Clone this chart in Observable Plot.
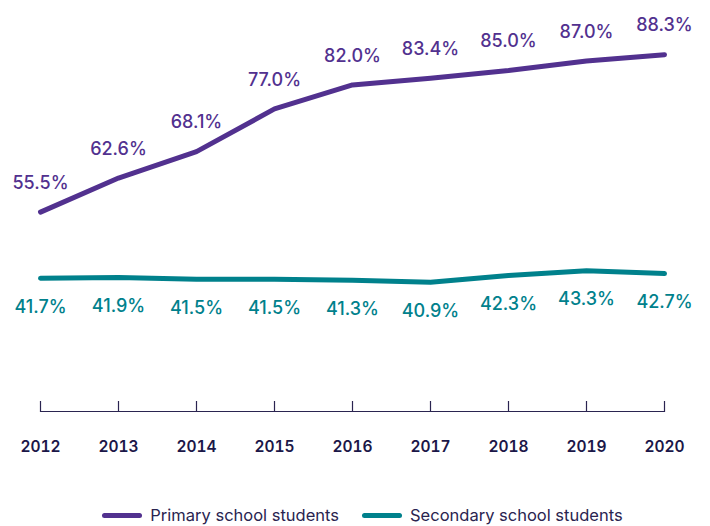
<!DOCTYPE html>
<html>
<head>
<meta charset="utf-8">
<script src="https://cdn.jsdelivr.net/npm/d3@7"></script>
<script src="https://cdn.jsdelivr.net/npm/@observablehq/plot@0.6"></script>
<style>
  body { margin: 0; background: #fff; font-family: Inter, "Noto Sans", sans-serif; }
  #chart { width: 710px; }
  .legend { display: flex; justify-content: center; gap: 23px; margin-top: 35px; font-size: 16.5px; color: #2a2450; padding-left: 15px; }
  .legend .item { display: flex; align-items: center; gap: 8px; }
  .legend .sw { width: 40px; height: 5px; border-radius: 3px; display: inline-block; }
</style>
</head>
<body>
<div id="chart"></div>
<script>
const years = [2012, 2013, 2014, 2015, 2016, 2017, 2018, 2019, 2020];
const primary = [55.5, 62.6, 68.1, 77.0, 82.0, 83.4, 85.0, 87.0, 88.3];
const secondary = [41.7, 41.9, 41.5, 41.5, 41.3, 40.9, 42.3, 43.3, 42.7];
const seriesNames = ["Primary school students", "Secondary school students"];
const colors = ["#52318f", "#00818c"];

const rows = [];
years.forEach((y, i) => {
  rows.push({year: y, value: primary[i], series: seriesNames[0]});
  rows.push({year: y, value: secondary[i], series: seriesNames[1]});
});
const prim = rows.filter(d => d.series === seriesNames[0]);
const sec = rows.filter(d => d.series === seriesNames[1]);

const plot = Plot.plot({
  width: 710,
  height: 470,
  marginLeft: 40,
  marginRight: 46,
  marginTop: 0,
  marginBottom: 59,
  style: {fontFamily: "Inter, 'Noto Sans', sans-serif", background: "#fff"},
  x: {domain: [2012, 2020], ticks: years, tickFormat: "d"},
  y: {domain: [40, 90], range: [286, 46], axis: null},
  color: {domain: seriesNames, range: colors},
  marks: [
    Plot.frame({anchor: "bottom", stroke: "#2a2450", strokeWidth: 1.2}),
    Plot.axisX(years, {tickSize: -10, tickFormat: () => "", stroke: "#2a2450", strokeWidth: 1.2, label: null}),
    Plot.axisX(years, {tickSize: 0, tickPadding: 29, tickFormat: "d", fontSize: 15.5, fontWeight: 600, fill: "#1b1748", label: null}),
    Plot.line(rows, {x: "year", y: "value", z: "series", stroke: "series", strokeWidth: 5, curve: "linear", strokeLinecap: "round", strokeLinejoin: "round"}),
    Plot.text(prim, {x: "year", y: "value", text: d => d.value.toFixed(1) + "%", dy: -29, fill: colors[0], fontSize: 18, fontWeight: 500}),
    Plot.text(sec, {x: "year", y: "value", text: d => d.value.toFixed(1) + "%", dy: 29, fill: colors[1], fontSize: 18, fontWeight: 500})
  ]
});
document.getElementById("chart").append(plot);

const legend = document.createElement("div");
legend.className = "legend";
seriesNames.forEach((n, i) => {
  const it = document.createElement("span");
  it.className = "item";
  const sw = document.createElement("span");
  sw.className = "sw";
  sw.style.background = colors[i];
  it.append(sw, document.createTextNode(n));
  legend.append(it);
});
document.getElementById("chart").append(legend);
</script>
</body>
</html>
